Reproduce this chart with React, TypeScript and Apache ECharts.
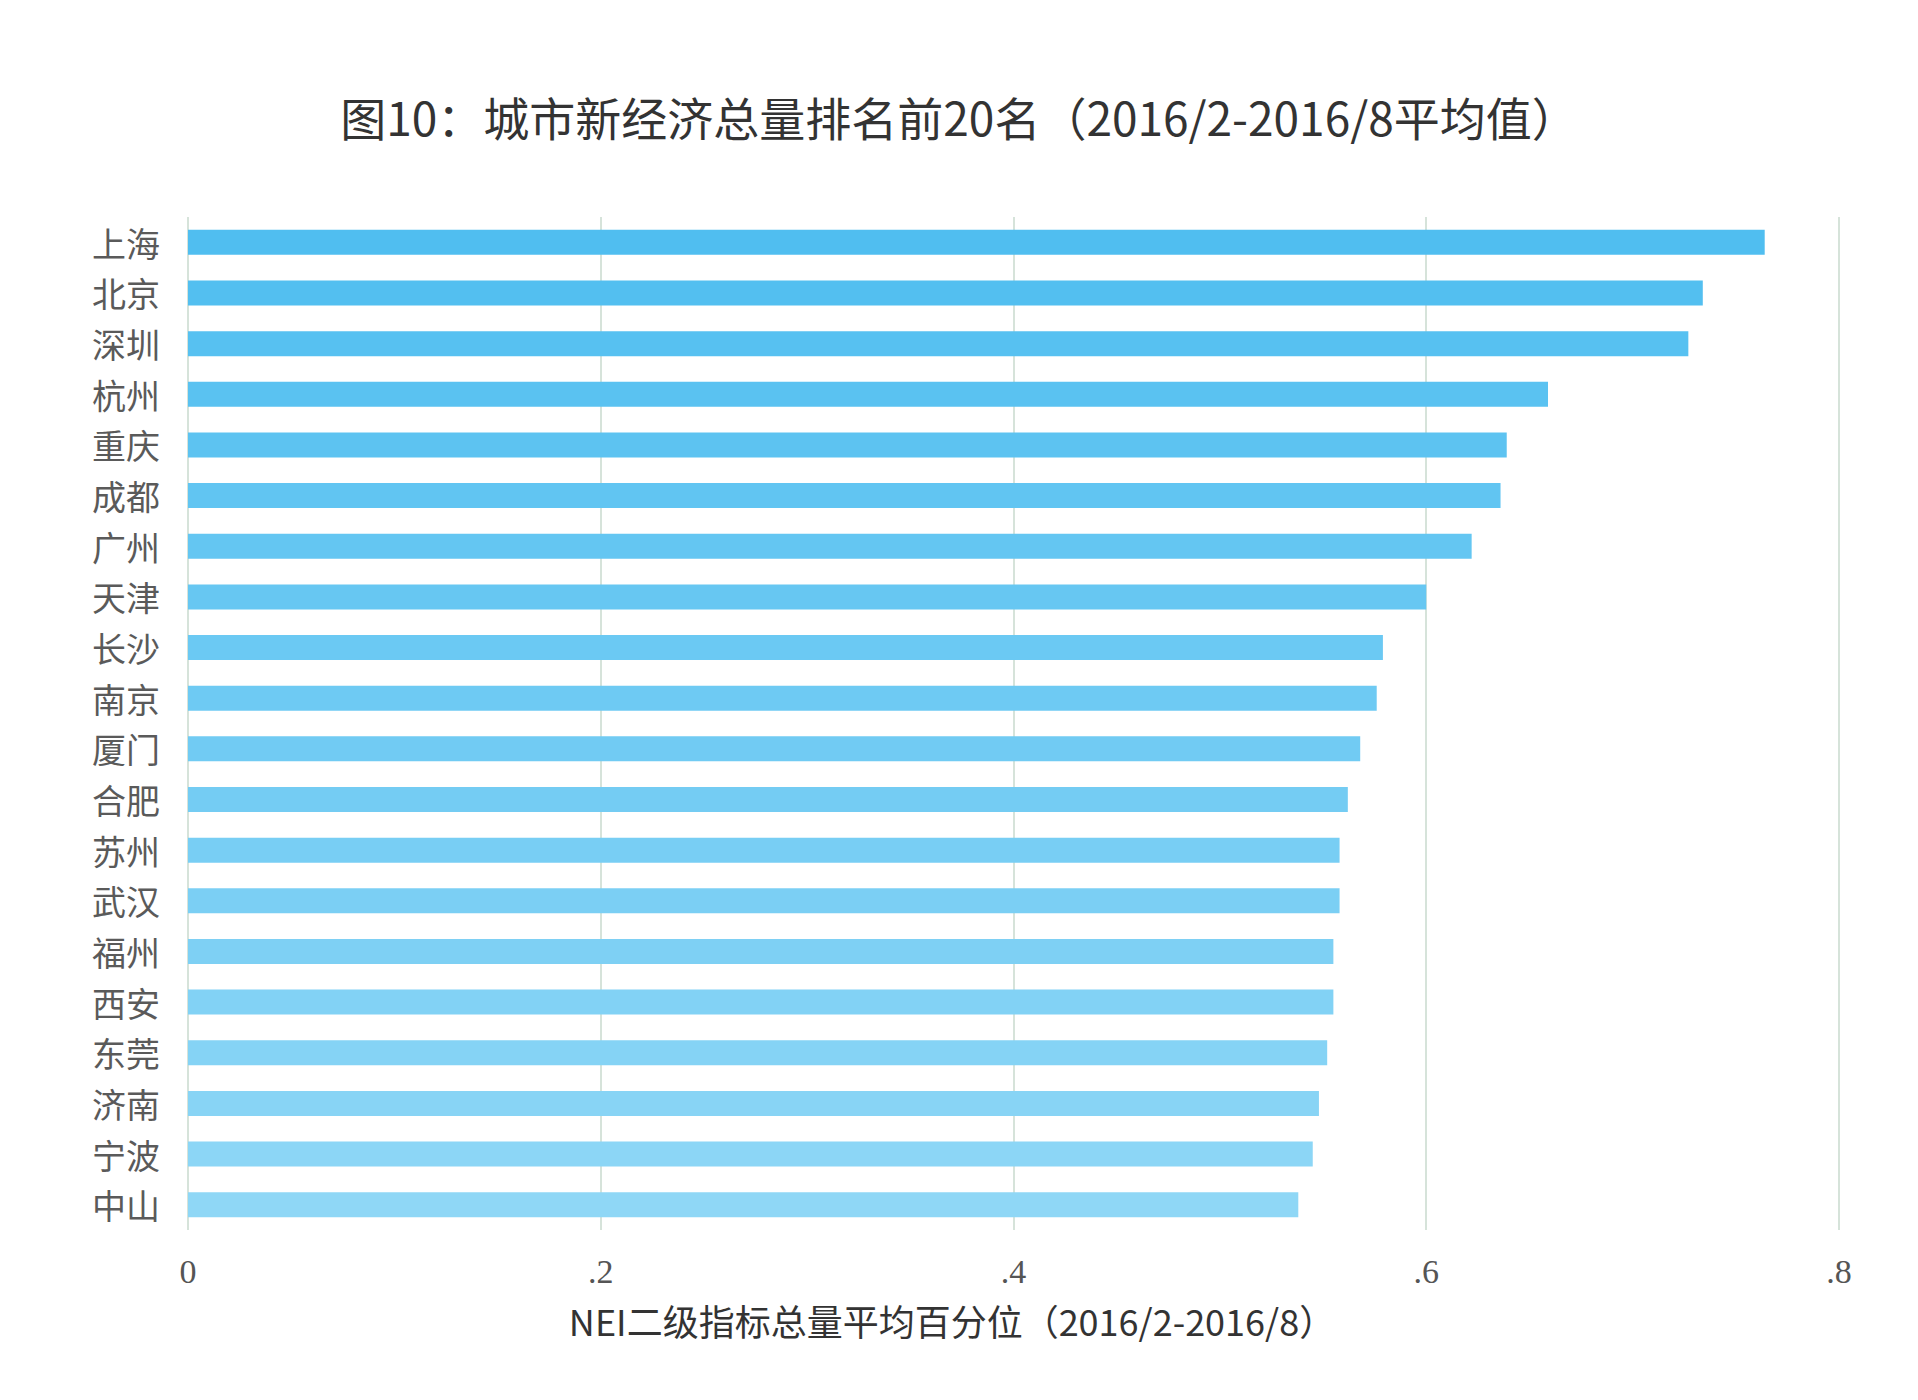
import React, { useEffect, useRef } from "react";
import * as echarts from "echarts";

const cities = ["上海", "北京", "深圳", "杭州", "重庆", "成都", "广州", "天津", "长沙", "南京", "厦门", "合肥", "苏州", "武汉", "福州", "西安", "东莞", "济南", "宁波", "中山"];
const values = [0.764, 0.734, 0.727, 0.659, 0.639, 0.636, 0.622, 0.600, 0.579, 0.576, 0.568, 0.562, 0.558, 0.558, 0.555, 0.555, 0.552, 0.548, 0.545, 0.538];
const xTickLabels = ["0", ".2", ".4", ".6", ".8"];
const titleText = "图10：城市新经济总量排名前20名（2016/2-2016/8平均值）";
const axisTitle = "NEI二级指标总量平均百分位（2016/2-2016/8）";

const topColor = [80, 190, 240];
const bottomColor = [143, 215, 246];

function barColor(i: number, n: number) {
  const t = n > 1 ? i / (n - 1) : 0;
  const c = topColor.map((v, k) => Math.round(v + (bottomColor[k] - v) * t));
  return `rgb(${c[0]},${c[1]},${c[2]})`;
}

export default function App() {
  const ref = useRef<HTMLDivElement>(null);
  useEffect(() => {
    document.body.style.margin = "0";
    const chart = echarts.init(ref.current!, null, { renderer: "svg" });
    chart.setOption({
      animation: false,
      backgroundColor: "#ffffff",
      title: {
        text: titleText,
        left: "center",
        top: 88,
        textStyle: {
          fontFamily: "Noto Sans CJK SC",
          fontSize: 46,
          fontWeight: "normal",
          color: "#333333",
        },
      },
      graphic: [
        {
          type: "text",
          x: 952,
          y: 1320,
          style: {
            text: axisTitle,
            fontFamily: "Noto Sans CJK SC",
            fontSize: 36,
            fill: "#333333",
            textAlign: "center",
            textVerticalAlign: "middle",
          },
        },
      ],
      grid: { left: 188, right: 79, top: 217, height: 1013 },
      xAxis: {
        type: "value",
        min: 0,
        max: 0.8,
        interval: 0.2,
        axisLine: { show: false },
        axisTick: { show: false },
        splitLine: { show: true, lineStyle: { color: "#c9dace", width: 1.5 } },
        axisLabel: {
          margin: 24,
          fontFamily: "Liberation Serif",
          fontSize: 34,
          color: "#555555",
          formatter: (v: number) => xTickLabels[Math.round(v / 0.2)] ?? "",
        },
      },
      yAxis: {
        type: "category",
        inverse: true,
        data: cities,
        axisLine: { show: false },
        axisTick: { show: false },
        axisLabel: {
          margin: 28,
          fontFamily: "Noto Sans CJK SC",
          fontSize: 34,
          color: "#5a5a5a",
        },
      },
      series: [
        {
          type: "bar",
          data: values,
          barWidth: 25,
          itemStyle: {
            color: (p: any) => barColor(p.dataIndex, cities.length),
          },
        },
      ],
    });
    return () => chart.dispose();
  }, []);
  return <div ref={ref} style={{ width: 1918, height: 1400 }} />;
}
